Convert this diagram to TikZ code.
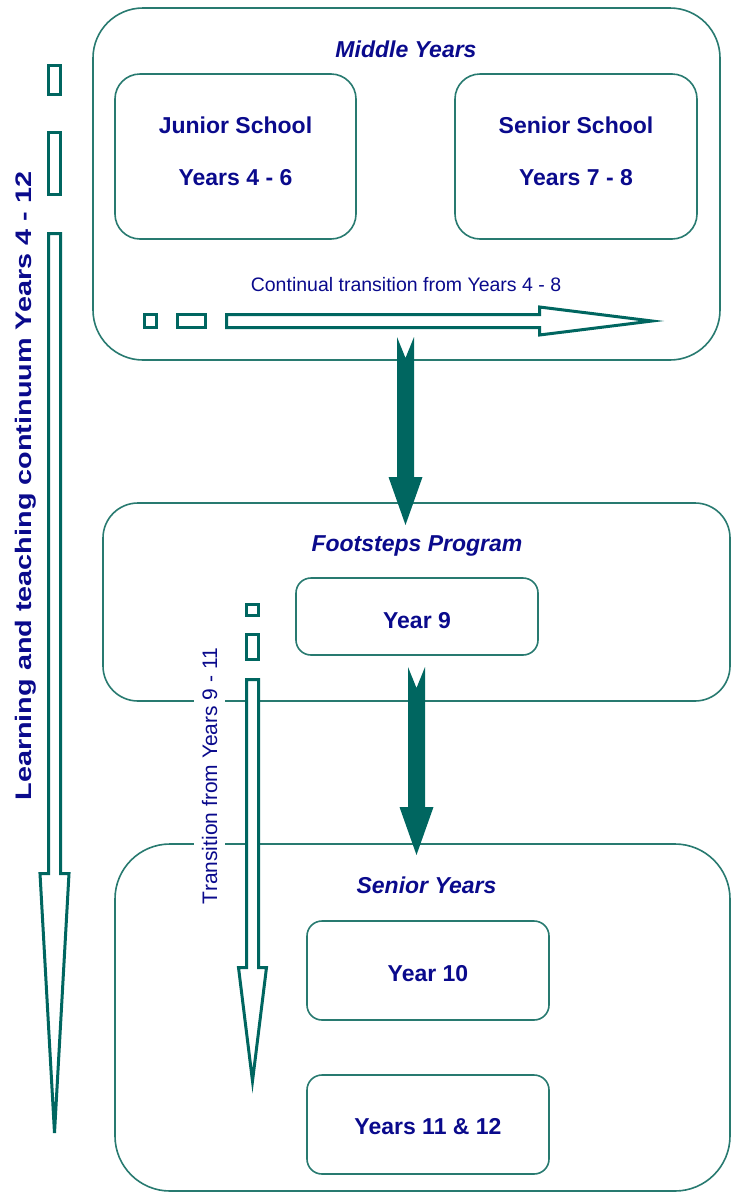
\documentclass[tikz,border=0pt]{standalone}
\usepackage{fontspec}
\setmainfont{Liberation Sans}
\usetikzlibrary{calc}
\definecolor{boxline}{RGB}{40,122,112}
\definecolor{arrowteal}{RGB}{0,102,96}
\definecolor{navy}{RGB}{10,10,140}
\pgfdeclarelayer{boxlayer}
\pgfdeclarelayer{edgelayer}
\pgfdeclarelayer{nodelayer}
\pgfsetlayers{boxlayer,edgelayer,nodelayer,main}
\tikzstyle{none}=[inner sep=0pt]
\tikzstyle{region}=[rectangle,draw=boxline,line width=1.6pt,inner sep=0pt]
\tikzstyle{heading}=[inner sep=0pt,anchor=base,text=navy,font=\fontsize{23}{27}\selectfont\bfseries\itshape]
\tikzstyle{stage}=[inner sep=0pt,anchor=base,text=navy,font=\fontsize{23}{27}\selectfont\bfseries]
\tikzstyle{caption}=[inner sep=0pt,anchor=base,text=navy,font=\fontsize{19.5}{23}\selectfont]
\tikzstyle{chip}=[rectangle,draw=arrowteal,fill=white,line width=3pt,inner sep=0pt]
\tikzstyle{hollow}=[draw=arrowteal,fill=white,line width=3pt]
\tikzstyle{block}=[fill=arrowteal]

\begin{document}
\begin{tikzpicture}[x=1pt,y=1pt]
	\useasboundingbox (0,0) rectangle (731,-1192);
	\begin{pgfonlayer}{boxlayer}
		\node [style=region, minimum width=627pt, minimum height=352pt, rounded corners=50pt] (0) at (406.5, -184) {};
		\node [style=region, minimum width=241pt, minimum height=165pt, rounded corners=25pt] (1) at (235.5, -156.5) {};
		\node [style=region, minimum width=242pt, minimum height=165pt, rounded corners=25pt] (2) at (576, -156.5) {};
		\node [style=region, minimum width=627pt, minimum height=198pt, rounded corners=35pt] (3) at (416.5, -602) {};
		\node [style=region, minimum width=242pt, minimum height=77pt, rounded corners=15pt] (4) at (417, -616.5) {};
		\node [style=region, minimum width=615pt, minimum height=347pt, rounded corners=55pt] (5) at (422.5, -1017.5) {};
		\node [style=region, minimum width=242pt, minimum height=99pt, rounded corners=15pt] (6) at (428, -970.5) {};
		\node [style=region, minimum width=242pt, minimum height=99pt, rounded corners=15pt] (7) at (428, -1124.5) {};
	\end{pgfonlayer}
	\begin{pgfonlayer}{nodelayer}
		\node [style=heading] (8) at (406, -57) {Middle Years};
		\node [style=stage] (9) at (235.5, -133) {Junior School};
		\node [style=stage] (10) at (235.5, -185) {Years 4 - 6};
		\node [style=stage] (11) at (576, -133) {Senior School};
		\node [style=stage] (12) at (576, -185) {Years 7 - 8};
		\node [style=caption] (13) at (406, -291) {Continual transition from Years 4 - 8};
		\node [style=heading] (14) at (417, -551.5) {Footsteps Program};
		\node [style=stage] (15) at (417, -628) {Year 9};
		\node [style=heading] (16) at (426.5, -893) {Senior Years};
		\node [style=stage] (17) at (428, -981) {Year 10};
		\node [style=stage] (18) at (428, -1134) {Years 11 \& 12};
		\node [style=stage, rotate=90, xscale=1.28, font=\fontsize{22.5}{27}\selectfont\bfseries] (19) at (31.5, -486) {Learning and teaching continuum Years 4 - 12};
		\node [style=caption, rotate=90, fill=white, inner sep=8pt, font=\fontsize{21}{25}\selectfont] (20) at (217, -776) {Transition from Years 9 - 11};
		\node [style=none] (21) at (405.5, -337) {};
		\node [style=none] (22) at (405.5, -525) {};
		\node [style=none] (23) at (416.5, -667) {};
		\node [style=none] (24) at (416.5, -855) {};
		\node [style=none] (25) at (226.5, -321) {};
		\node [style=none] (26) at (652, -321) {};
		\node [style=none] (27) at (54.5, -233.5) {};
		\node [style=none] (28) at (54.5, -1133) {};
		\node [style=none] (29) at (252.5, -679.5) {};
		\node [style=none] (30) at (252.5, -1081) {};
	\end{pgfonlayer}
	\begin{pgfonlayer}{edgelayer}
		\fill [style=block] ($(21.center)+(-8.5,0)$) -- ($(21.center)+(0,-21)$) -- ($(21.center)+(8.5,0)$) -- ($(22.center)+(8.5,48)$) -- ($(22.center)+(17,48)$) -- (22.center) -- ($(22.center)+(-17,48)$) -- ($(22.center)+(-8.5,48)$) -- cycle;
		\fill [style=block] ($(23.center)+(-8.5,0)$) -- ($(23.center)+(0,-21)$) -- ($(23.center)+(8.5,0)$) -- ($(24.center)+(8.5,48)$) -- ($(24.center)+(17,48)$) -- (24.center) -- ($(24.center)+(-17,48)$) -- ($(24.center)+(-8.5,48)$) -- cycle;
		\filldraw [style=hollow] ($(25.center)+(0,6.5)$) -- ($(26.center)+(-112.5,6.5)$) -- ($(26.center)+(-112.5,14)$) -- (26.center) -- ($(26.center)+(-112.5,-14)$) -- ($(26.center)+(-112.5,-6.5)$) -- ($(25.center)+(0,-6.5)$) -- cycle;
		\filldraw [style=hollow] ($(27.center)+(-6,0)$) -- ($(28.center)+(-6,259.5)$) -- ($(28.center)+(-14.5,259.5)$) -- (28.center) -- ($(28.center)+(14.5,259.5)$) -- ($(28.center)+(6,259.5)$) -- ($(27.center)+(6,0)$) -- cycle;
		\filldraw [style=hollow] ($(29.center)+(-6,0)$) -- ($(30.center)+(-6,113.5)$) -- ($(30.center)+(-14,113.5)$) -- (30.center) -- ($(30.center)+(14,113.5)$) -- ($(30.center)+(6,113.5)$) -- ($(29.center)+(6,0)$) -- cycle;
		\node [style=chip, minimum width=12pt, minimum height=13pt] (31) at (150.5, -321) {};
		\node [style=chip, minimum width=28pt, minimum height=13pt] (32) at (191.5, -321) {};
		\node [style=chip, minimum width=12pt, minimum height=29pt] (33) at (54.5, -80) {};
		\node [style=chip, minimum width=12pt, minimum height=62pt] (34) at (54.5, -163.5) {};
		\node [style=chip, minimum width=12pt, minimum height=11pt] (35) at (252.5, -610) {};
		\node [style=chip, minimum width=12pt, minimum height=25pt] (36) at (252.5, -647) {};
	\end{pgfonlayer}
\end{tikzpicture}
\end{document}
